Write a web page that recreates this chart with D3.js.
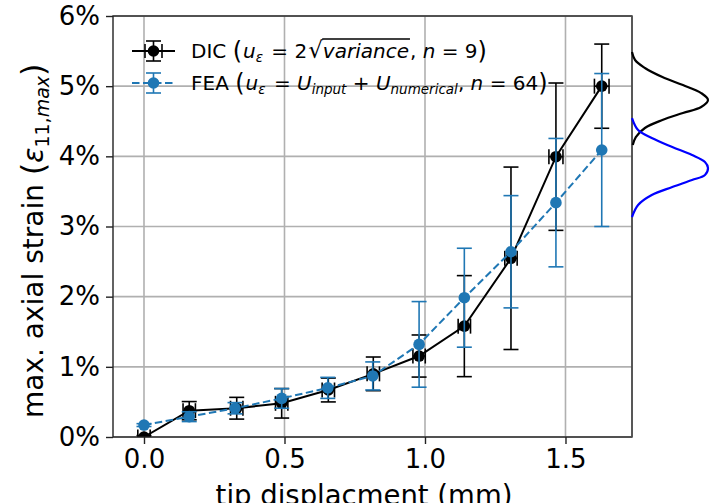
<!DOCTYPE html>
<html>
<head>
<meta charset="utf-8">
<script src="https://d3js.org/d3.v7.min.js"></script>
<style>
  body { margin: 0; background: #fff; }
  text { font-family: "DejaVu Sans", sans-serif; fill: #000; white-space: pre; }
</style>
</head>
<body>
<script>

// ---- data ----
var xTicks = [0, 0.5, 1.0, 1.5];
var yTicks = [0, 1, 2, 3, 4, 5, 6];

// DIC (black), strain in %
var dispDIC   = [0, 0.161, 0.330, 0.490, 0.656, 0.816, 0.979, 1.140, 1.306, 1.466, 1.629];
var strainDIC = [0.00, 0.375, 0.41, 0.48, 0.67, 0.90, 1.154, 1.58, 2.547, 3.995, 5.00];
var errDIC    = [0.02, 0.13, 0.155, 0.21, 0.17, 0.24, 0.30, 0.72, 1.30, 1.05, 0.60];
var xerrDIC   = [0.022, 0.022, 0.022, 0.022, 0.022, 0.022, 0.022, 0.022, 0.022, 0.025, 0.026];

// FEA (blue)
var dispFEA   = [0, 0.161, 0.324, 0.490, 0.654, 0.814, 0.979, 1.140, 1.306, 1.466, 1.629];
var strainFEA = [0.17, 0.29, 0.41, 0.55, 0.70, 0.87, 1.32, 1.985, 2.64, 3.34, 4.09];
var errFEA    = [0.02, 0.07, 0.08, 0.14, 0.15, 0.20, 0.61, 0.705, 0.80, 0.915, 1.09];

// side distributions (strain %, relative density)
var distDICstrain = [5.487, 5.373, 5.259, 5.130, 5.016, 4.902, 4.803, 4.703, 4.617, 4.518, 4.404, 4.275, 4.161];
var distDICdens   = [0.00, 0.04, 0.17, 0.40, 0.67, 0.91, 1.00, 0.91, 0.67, 0.40, 0.17, 0.05, 0.01];
var distFEAstrain = [4.546, 4.375, 4.261, 4.133, 4.019, 3.919, 3.833, 3.733, 3.662, 3.562, 3.448, 3.306, 3.135];
var distFEAdens   = [0.00, 0.08, 0.26, 0.53, 0.79, 0.96, 1.00, 0.96, 0.79, 0.53, 0.26, 0.08, 0.00];

var blue = "#1f77b4";

var svg = d3.select("body").append("svg")
    .attr("width", 711)
    .attr("height", 503);

var x = d3.scaleLinear().domain([-0.1103, 1.7367]).range([113, 632]);
var y = d3.scaleLinear().domain([0, 6]).range([437, 16]);
var xd = d3.scaleLinear().domain([0, 1]).range([632, 708]);

// grid
svg.append("g").selectAll("line").data(xTicks).enter().append("line")
    .attr("x1", d => x(d)).attr("x2", d => x(d))
    .attr("y1", y(0)).attr("y2", y(6))
    .style("stroke", "#b0b0b0").style("stroke-width", 1.6);
svg.append("g").selectAll("line").data(yTicks).enter().append("line")
    .attr("x1", 113).attr("x2", 632)
    .attr("y1", d => y(d)).attr("y2", d => y(d))
    .style("stroke", "#b0b0b0").style("stroke-width", 1.6);

// axes
var xAxis = svg.append("g")
    .attr("transform", "translate(0,437)")
    .call(d3.axisBottom(x).tickValues(xTicks).tickFormat(d3.format(".1f")).tickSize(7).tickPadding(6).tickSizeOuter(0));
var yAxis = svg.append("g")
    .attr("transform", "translate(113,0)")
    .call(d3.axisLeft(y).tickValues(yTicks).tickFormat(d => d + "%").tickSize(7).tickPadding(6).tickSizeOuter(0));
[xAxis, yAxis].forEach(function(a) {
  a.select(".domain").remove();
  a.selectAll(".tick line").style("stroke", "#222").style("stroke-width", 1.4);
  a.selectAll(".tick text").style("font-size", "26px").style("font-family", "DejaVu Sans").style("fill", "#000");
});

// clip for data
svg.append("clipPath").attr("id", "plotclip")
  .append("rect").attr("x", 113).attr("y", 16).attr("width", 519).attr("height", 421);

var plot = svg.append("g").attr("clip-path", "url(#plotclip)");

function drawSeries(xs, ys, yerr, xerr, color, dash) {
  var g = plot.append("g");
  var pts = xs.map((d, i) => ({x: d, y: ys[i], e: yerr[i], xe: xerr ? xerr[i] : 0}));
  var cap = 7.5;
  // vertical error bars
  pts.forEach(function(p) {
    var x0 = x(p.x), y1 = y(p.y - p.e), y2 = y(p.y + p.e);
    g.append("line").attr("x1", x0).attr("x2", x0).attr("y1", y1).attr("y2", y2)
      .style("stroke", color).style("stroke-width", 1.6);
    [y1, y2].forEach(function(yy) {
      g.append("line").attr("x1", x0 - cap).attr("x2", x0 + cap).attr("y1", yy).attr("y2", yy)
        .style("stroke", color).style("stroke-width", 1.6);
    });
    if (p.xe) {
      var xa = x(p.x - p.xe), xb = x(p.x + p.xe), y0 = y(p.y);
      g.append("line").attr("x1", xa).attr("x2", xb).attr("y1", y0).attr("y2", y0)
        .style("stroke", color).style("stroke-width", 1.6);
      [xa, xb].forEach(function(xx) {
        g.append("line").attr("x1", xx).attr("x2", xx).attr("y1", y0 - cap).attr("y2", y0 + cap)
          .style("stroke", color).style("stroke-width", 1.6);
      });
    }
  });
  var line = d3.line().x(d => x(d.x)).y(d => y(d.y));
  g.append("path").datum(pts).attr("d", line)
    .style("fill", "none").style("stroke", color).style("stroke-width", 2)
    .style("stroke-dasharray", dash || null);
  g.selectAll("circle").data(pts).enter().append("circle")
    .attr("cx", d => x(d.x)).attr("cy", d => y(d.y)).attr("r", 5.8)
    .style("fill", color);
}

drawSeries(dispDIC, strainDIC, errDIC, xerrDIC, "#000", null);
drawSeries(dispFEA, strainFEA, errFEA, null, blue, "7.5,3.5");

// frame
svg.append("rect").attr("x", 113).attr("y", 16).attr("width", 519).attr("height", 421)
  .style("fill", "none").style("stroke", "#222").style("stroke-width", 1.4);
// side panel spine
svg.append("line").attr("x1", 632).attr("x2", 632).attr("y1", 16).attr("y2", 437)
  .style("stroke", "#555").style("stroke-width", 1.6);

// side distributions
var dline = d3.line().x(d => xd(d[1])).y(d => y(d[0])).curve(d3.curveCatmullRom);
svg.append("path").datum(distDICstrain.map((s, i) => [s, distDICdens[i]])).attr("d", dline)
  .style("fill", "none").style("stroke", "#000").style("stroke-width", 2.2);
svg.append("path").datum(distFEAstrain.map((s, i) => [s, distFEAdens[i]])).attr("d", dline)
  .style("fill", "none").style("stroke", "#0000ff").style("stroke-width", 2.2);

// text runs helper
function runs(g, x0, y0, list) {
  var cx = x0;
  list.forEach(function(r) {
    var t = g.append("text")
      .attr("x", cx).attr("y", y0 + (r.dy || 0))
      .style("font-size", r.size + "px")
      .style("font-style", r.it ? "italic" : "normal")
      .text(r.t);
    var w = t.node().getComputedTextLength();
    if (r.over) {
      var bb = g.select("text.rad").node().getBBox();
      g.append("line").attr("x1", bb.x + bb.width - 1).attr("x2", cx + w + 1)
        .attr("y1", bb.y + 2).attr("y2", bb.y + 2)
        .style("stroke", "#000").style("stroke-width", 1.3);
    }
    if (r.rad) t.attr("class", "rad");
    cx += w + (r.gap || 0);
  });
  return cx;
}

// legend
var fs = 20, sub = 13.5, par = 24;
var lg = svg.append("g");
// DIC handle
var ly1 = 51, ly2 = 83;
lg.append("line").attr("x1", 132).attr("x2", 175).attr("y1", ly1).attr("y2", ly1)
  .style("stroke", "#000").style("stroke-width", 2);
[[153.5, ly1 - 10, 153.5, ly1 + 10], [146, ly1 - 10, 161, ly1 - 10], [146, ly1 + 10, 161, ly1 + 10],
 [145, ly1 - 7, 145, ly1 + 7], [162, ly1 - 7, 162, ly1 + 7]].forEach(function(c) {
  lg.append("line").attr("x1", c[0]).attr("y1", c[1]).attr("x2", c[2]).attr("y2", c[3])
    .style("stroke", "#000").style("stroke-width", 1.6);
});
lg.append("circle").attr("cx", 153.5).attr("cy", ly1).attr("r", 5.8).style("fill", "#000");
// FEA handle
lg.append("line").attr("x1", 132).attr("x2", 175).attr("y1", ly2).attr("y2", ly2)
  .style("stroke", blue).style("stroke-width", 2).style("stroke-dasharray", "7.5,3.5");
[[153.5, ly2 - 10, 153.5, ly2 + 10], [146, ly2 - 10, 161, ly2 - 10], [146, ly2 + 10, 161, ly2 + 10]].forEach(function(c) {
  lg.append("line").attr("x1", c[0]).attr("y1", c[1]).attr("x2", c[2]).attr("y2", c[3])
    .style("stroke", blue).style("stroke-width", 1.6);
});
lg.append("circle").attr("cx", 153.5).attr("cy", ly2).attr("r", 5.8).style("fill", blue);

var g1 = lg.append("g");
runs(g1, 191, ly1 + 7, [
  {t: "DIC ", size: fs},
  {t: "(", size: par, dy: 0.5, gap: 1},
  {t: "u", size: fs, it: true},
  {t: "ε", size: sub, it: true, dy: 4, gap: 2},
  {t: " = 2", size: fs, gap: 1},
  {t: "√", size: 23, rad: true},
  {t: "variance", size: fs, it: true, over: true, gap: 1},
  {t: ", ", size: fs},
  {t: "n", size: fs, it: true},
  {t: " = 9", size: fs},
  {t: ")", size: par, dy: 0.5}
]);
var g2 = lg.append("g");
runs(g2, 191, ly2 + 7, [
  {t: "FEA ", size: fs},
  {t: "(", size: par, dy: 0.5, gap: 1},
  {t: "u", size: fs, it: true},
  {t: "ε", size: sub, it: true, dy: 4, gap: 2},
  {t: " = ", size: fs},
  {t: "U", size: fs, it: true},
  {t: "input", size: sub, it: true, dy: 4},
  {t: " + ", size: fs},
  {t: "U", size: fs, it: true},
  {t: "numerical", size: sub, it: true, dy: 4},
  {t: ", ", size: fs},
  {t: "n", size: fs, it: true},
  {t: " = 64", size: fs},
  {t: ")", size: par, dy: 0.5}
]);

// axis labels (the reference cuts the x label at the bottom edge)
svg.append("text").attr("x", 364).attr("y", 505)
  .attr("text-anchor", "middle").style("font-size", "27.5px")
  .text("tip displacment (mm)");

var yl = svg.append("g").attr("transform", "translate(43,418) rotate(-90)");
runs(yl, 0, 0, [
  {t: "max. axial strain ", size: 28},
  {t: "(", size: 32, dy: 1},
  {t: "ε", size: 28, it: true},
  {t: "11,", size: 19, dy: 6},
  {t: "max", size: 19, it: true, dy: 6},
  {t: ")", size: 32, dy: 1}
]);

</script>
</body>
</html>
